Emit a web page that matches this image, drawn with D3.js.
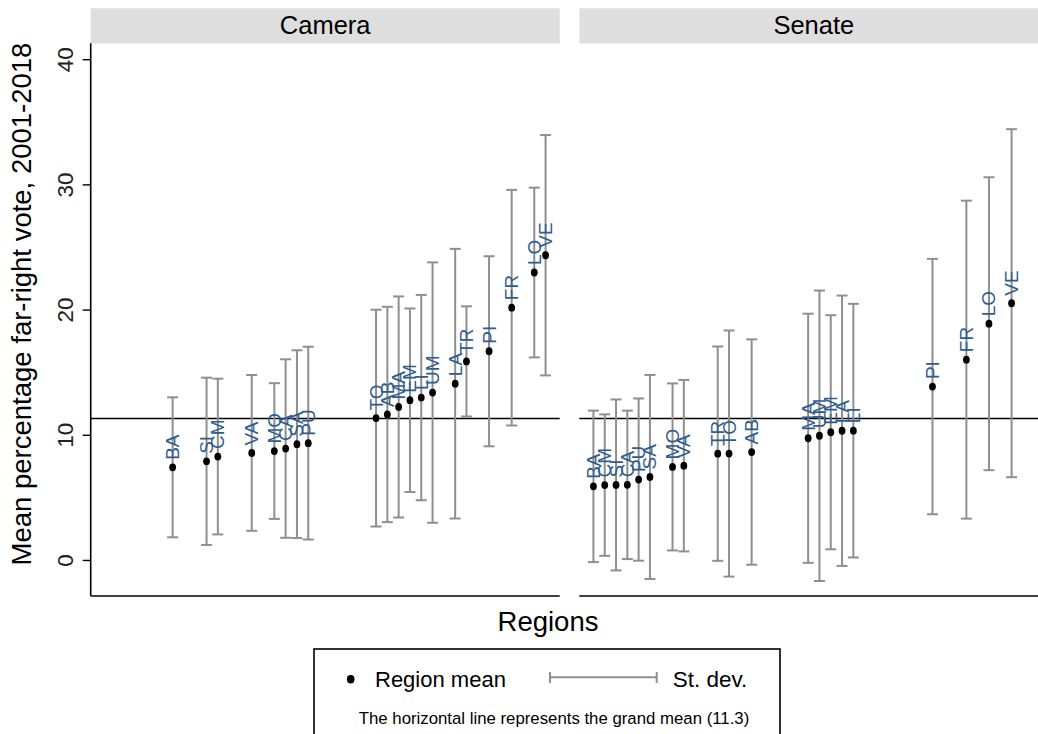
<!DOCTYPE html>
<html>
<head>
<meta charset="utf-8">
<script src="https://cdn.jsdelivr.net/npm/d3@7"></script>
<style>
  body { margin: 0; background: #fff; }
  svg { display: block; font-family: "Liberation Sans", Arial, sans-serif; }
</style>
</head>
<body>
<figure id="chart" style="margin:0"></figure>
<script>
// Camera (lower chamber)
const cameraRegions = ["BA", "SI", "CM", "VA", "MO", "CA", "SA", "PU", "TO", "AB", "MA", "EM", "LI", "UM", "LA", "TR", "PI", "FR", "LO", "VE"]
const cameraRank = [7, 10, 11, 14, 16, 17, 18, 19, 25, 26, 27, 28, 29, 30, 32, 33, 35, 37, 39, 40]
const cameraMean = [7.4, 7.88, 8.26, 8.55, 8.7, 8.9, 9.25, 9.33, 11.33, 11.62, 12.22, 12.76, 12.97, 13.37, 14.08, 15.86, 16.67, 20.15, 22.96, 24.34]
const cameraSd = [5.59, 6.68, 6.22, 6.22, 5.42, 7.13, 7.5, 7.7, 8.66, 8.6, 8.83, 7.33, 8.2, 10.4, 10.77, 4.4, 7.59, 9.41, 6.78, 9.6]

// Senate
const senateRegions = ["BA", "CM", "SI", "CA", "PU", "SA", "MO", "VA", "TR", "TO", "AB", "MA", "UM", "EM", "LA", "LI", "PI", "FR", "LO", "VE"]
const senateRank = [1, 2, 3, 4, 5, 6, 8, 9, 12, 13, 15, 20, 21, 22, 23, 24, 31, 34, 36, 38]
const senateMean = [5.88, 5.98, 5.99, 6.0, 6.42, 6.63, 7.43, 7.53, 8.49, 8.5, 8.62, 9.72, 9.92, 10.2, 10.32, 10.33, 13.85, 16.0, 18.87, 20.51]
const senateSd = [6.05, 5.65, 6.83, 5.93, 6.48, 8.15, 6.67, 6.85, 8.56, 9.83, 9.0, 9.95, 11.6, 9.35, 10.8, 10.13, 10.2, 12.7, 11.7, 13.9]

const grandMean = 11.3
const yTicks = [0, 10, 20, 30, 40]

const W = 1038, H = 734
const panelW = 469
const plotTop = 43.3, plotBottom = 596

const svg = d3.select("#chart").append("svg")
  .attr("width", W).attr("height", H)

const y = d3.scaleLinear().domain([-2.88, 41.27]).range([plotBottom, plotTop])

const panels = [
  { name: "Camera", left: 90.7, regions: cameraRegions, rank: cameraRank, mean: cameraMean, sd: cameraSd },
  { name: "Senate", left: 579.3, regions: senateRegions, rank: senateRank, mean: senateMean, sd: senateSd }
]

panels.forEach((p, pi) => {
  const x = d3.scaleLinear().domain([-0.25, 41.25]).range([p.left, p.left + panelW])
  const rows = p.regions.map((r, i) => ({ region: r, rank: p.rank[i], mean: p.mean[i], sd: p.sd[i] }))

  // strip
  svg.append("rect")
    .attr("x", p.left).attr("y", 8.3)
    .attr("width", panelW).attr("height", plotTop - 8.3)
    .attr("fill", "#dedede")
  svg.append("text")
    .attr("x", p.left + panelW / 2).attr("y", 33.5)
    .attr("text-anchor", "middle")
    .style("font-size", "25.5px")
    .text(p.name)

  // grand mean line
  svg.append("line")
    .attr("x1", p.left).attr("x2", p.left + panelW)
    .attr("y1", y(grandMean)).attr("y2", y(grandMean))
    .attr("stroke", "#000").attr("stroke-width", 1.6)

  // bottom axis line
  svg.append("line")
    .attr("x1", p.left).attr("x2", p.left + panelW)
    .attr("y1", plotBottom).attr("y2", plotBottom)
    .attr("stroke", "#000").attr("stroke-width", 1.6)

  const g = svg.append("g")

  // error bars
  const bars = g.selectAll(".bar").data(rows).enter().append("g").attr("class", "bar")
  bars.append("line")
    .attr("x1", d => x(d.rank)).attr("x2", d => x(d.rank))
    .attr("y1", d => y(d.mean + d.sd)).attr("y2", d => y(d.mean - d.sd))
  bars.append("line")
    .attr("x1", d => x(d.rank) - 5.5).attr("x2", d => x(d.rank) + 5.5)
    .attr("y1", d => y(d.mean + d.sd)).attr("y2", d => y(d.mean + d.sd))
  bars.append("line")
    .attr("x1", d => x(d.rank) - 5.5).attr("x2", d => x(d.rank) + 5.5)
    .attr("y1", d => y(d.mean - d.sd)).attr("y2", d => y(d.mean - d.sd))
  bars.selectAll("line").attr("stroke", "#8f8f8f").attr("stroke-width", 2)

  // means
  g.selectAll(".dot").data(rows).enter().append("ellipse")
    .attr("cx", d => x(d.rank)).attr("cy", d => y(d.mean))
    .attr("rx", 3.4).attr("ry", 3.9)
    .attr("fill", "#000")

  // region labels
  g.selectAll(".lab").data(rows).enter().append("text")
    .attr("transform", d => `translate(${x(d.rank) + 6.5},${y(d.mean) - 7.5}) rotate(-90)`)
    .style("font-size", "19px")
    .attr("fill", "#2f5e8e")
    .text(d => d.region)

  if (pi === 0) {
    // y axis
    svg.append("line")
      .attr("x1", p.left).attr("x2", p.left)
      .attr("y1", plotTop).attr("y2", plotBottom)
      .attr("stroke", "#000").attr("stroke-width", 1.6)
    const ax = svg.append("g").attr("transform", `translate(${p.left},0)`)
      .call(d3.axisLeft(y).tickValues(yTicks).tickSize(8).tickFormat(d3.format("d")))
    ax.select(".domain").remove()
    ax.selectAll(".tick line").attr("stroke", "#000").attr("stroke-width", 1.4)
    ax.selectAll(".tick text")
      .attr("x", null).attr("dy", null)
      .attr("transform", "rotate(-90)")
      .attr("y", -18)
      .attr("text-anchor", "middle")
      .attr("fill", "#222")
      .style("font-size", "22.5px")
      .style("font-family", "'Liberation Sans', Arial, sans-serif")
  }
})

// axis titles
svg.append("text")
  .attr("transform", `translate(31,304) rotate(-90)`)
  .attr("text-anchor", "middle")
  .style("font-size", "27.5px")
  .text("Mean percentage far-right vote, 2001-2018")

svg.append("text")
  .attr("x", 548).attr("y", 631)
  .attr("text-anchor", "middle")
  .style("font-size", "27.5px")
  .text("Regions")

// legend
const leg = svg.append("g")
leg.append("rect")
  .attr("x", 314).attr("y", 649).attr("width", 466).attr("height", 100)
  .attr("fill", "none").attr("stroke", "#000").attr("stroke-width", 1.6)
leg.append("ellipse").attr("cx", 350.7).attr("cy", 679.3).attr("rx", 3.8).attr("ry", 4.2).attr("fill", "#000")
leg.append("text").attr("x", 375).attr("y", 686.5).style("font-size", "22px").text("Region mean")
leg.append("line").attr("x1", 550).attr("x2", 656.7).attr("y1", 677.3).attr("y2", 677.3)
leg.append("line").attr("x1", 550).attr("x2", 550).attr("y1", 672).attr("y2", 683)
leg.append("line").attr("x1", 656.7).attr("x2", 656.7).attr("y1", 672).attr("y2", 683)
leg.selectAll("line").attr("stroke", "#8f8f8f").attr("stroke-width", 2)
leg.append("text").attr("x", 672.7).attr("y", 686.5).style("font-size", "22.5px").text("St. dev.")
leg.append("text").attr("x", 554).attr("y", 723.5).attr("text-anchor", "middle")
  .style("font-size", "16.8px")
  .text("The horizontal line represents the grand mean (" + grandMean + ")")
</script>
</body>
</html>
